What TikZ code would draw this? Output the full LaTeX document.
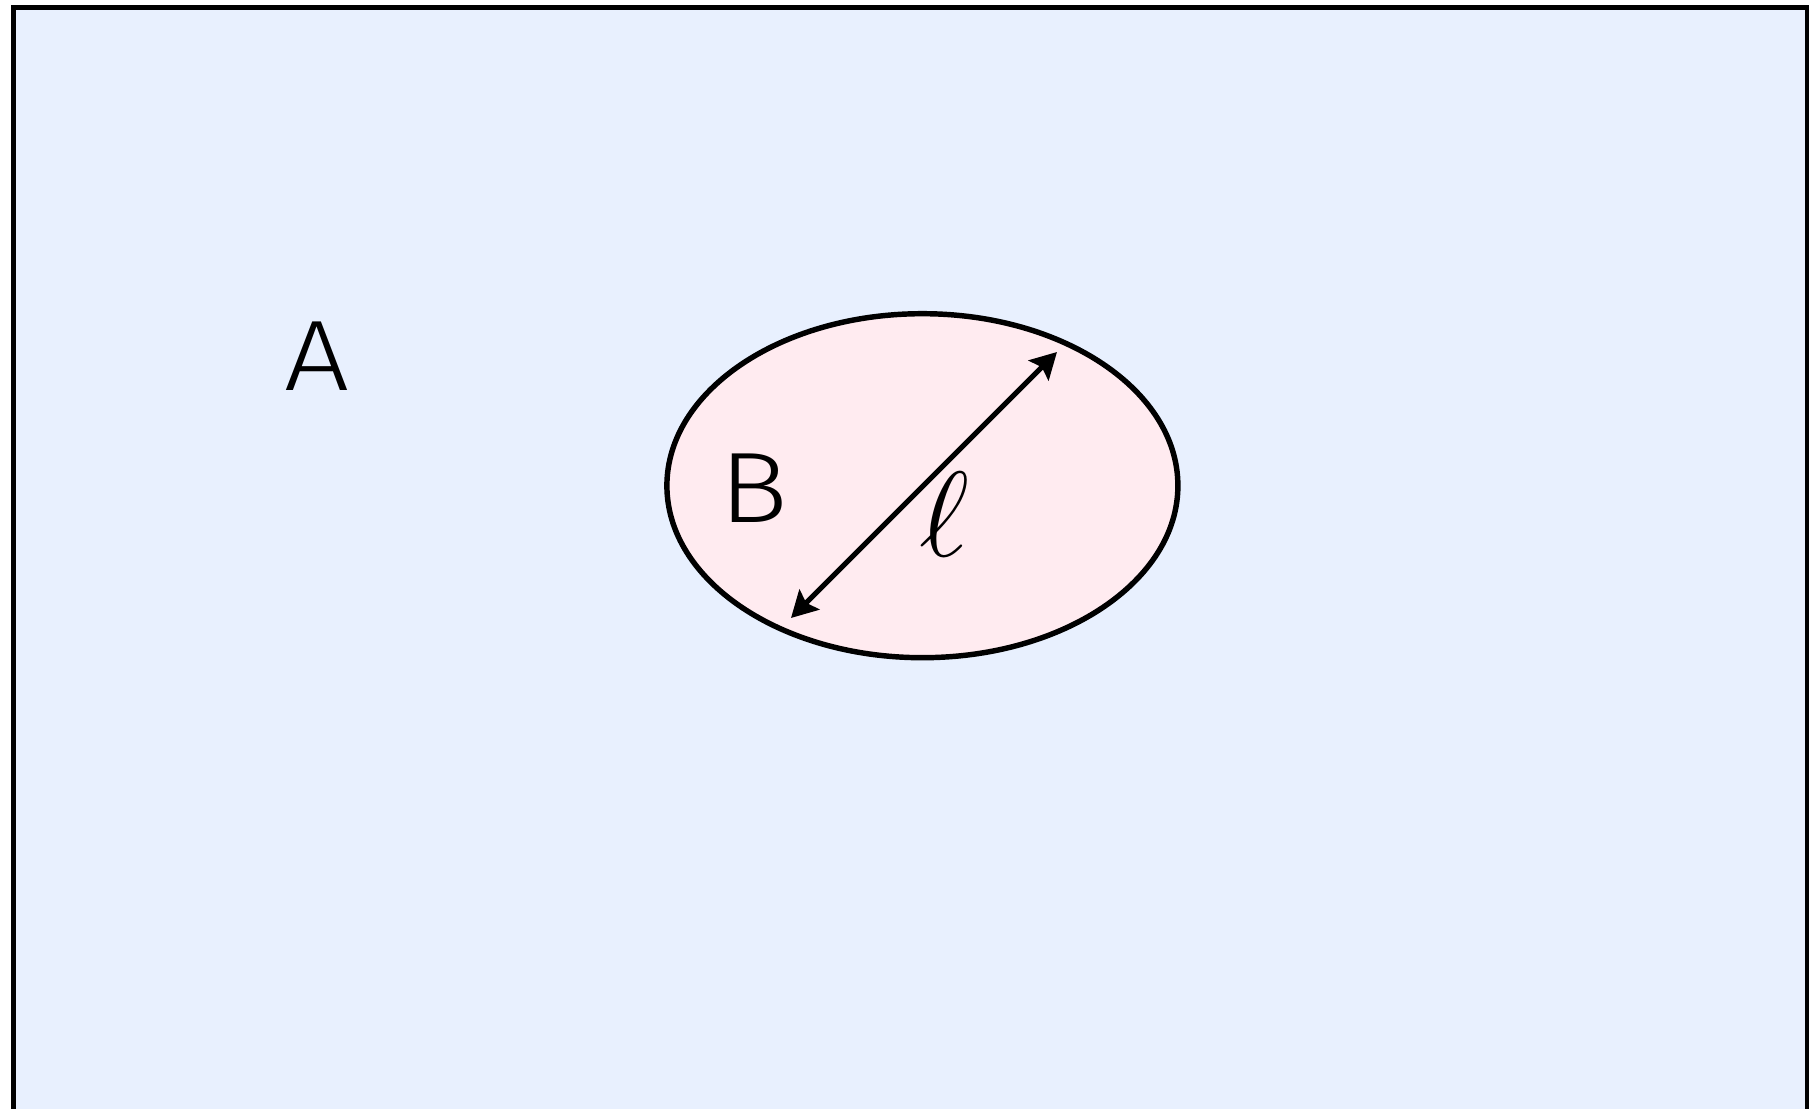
\RequirePackage{fix-cm}
\documentclass[tikz,border=0pt]{standalone}
\usepackage{fontspec}
\setsansfont{Fira Sans Light}[FakeStretch=1.15]
\usetikzlibrary{positioning,arrows.meta,shapes.geometric}
\definecolor{setblue}{RGB}{232,240,254}
\definecolor{setpink}{RGB}{255,235,240}

\begin{document}
\begin{tikzpicture}[
    setbox/.style={
        draw,
        line width=1.45pt,
        inner sep=0pt
    },
    bigset/.style={setbox, rectangle, fill=setblue,
        minimum width=17.94cm, minimum height=11.5cm},
    subset/.style={setbox, ellipse, fill=setpink, line width=1.55pt,
        minimum width=5.11cm, minimum height=3.44cm},
    setlabel/.style={font=\sffamily\fontsize{28.5}{32}\selectfont,
        inner sep=0pt, anchor=base},
    dimarrow/.style={{Stealth[length=7.4pt,width=8pt,inset=1.3pt]}-{Stealth[length=7.4pt,width=8pt,inset=1.3pt]},
        line width=1.45pt}
]
\clip (0,0) rectangle (18.09,-11.09);

% ============================================================
% MENGEN
% ============================================================
\node[bigset] (setA) at (9.105,-5.825) {};
\node[subset] (setB) at (9.224,-4.857) {};

\node[setlabel] (lblA) at (3.17,-3.91) {A};
\node[setlabel] (lblB) at (7.54,-5.225) {B};

% ============================================================
% DURCHMESSER
% ============================================================
\coordinate (lo) at (7.91,-6.18);
\coordinate (hi) at (10.57,-3.52);
\draw[dimarrow] (lo) -- (hi);

\node[inner sep=0pt, anchor=base, font=\fontsize{34.5}{40}\selectfont]
    (len) at (9.44,-5.57) {$\ell$};

\end{tikzpicture}
\end{document}
